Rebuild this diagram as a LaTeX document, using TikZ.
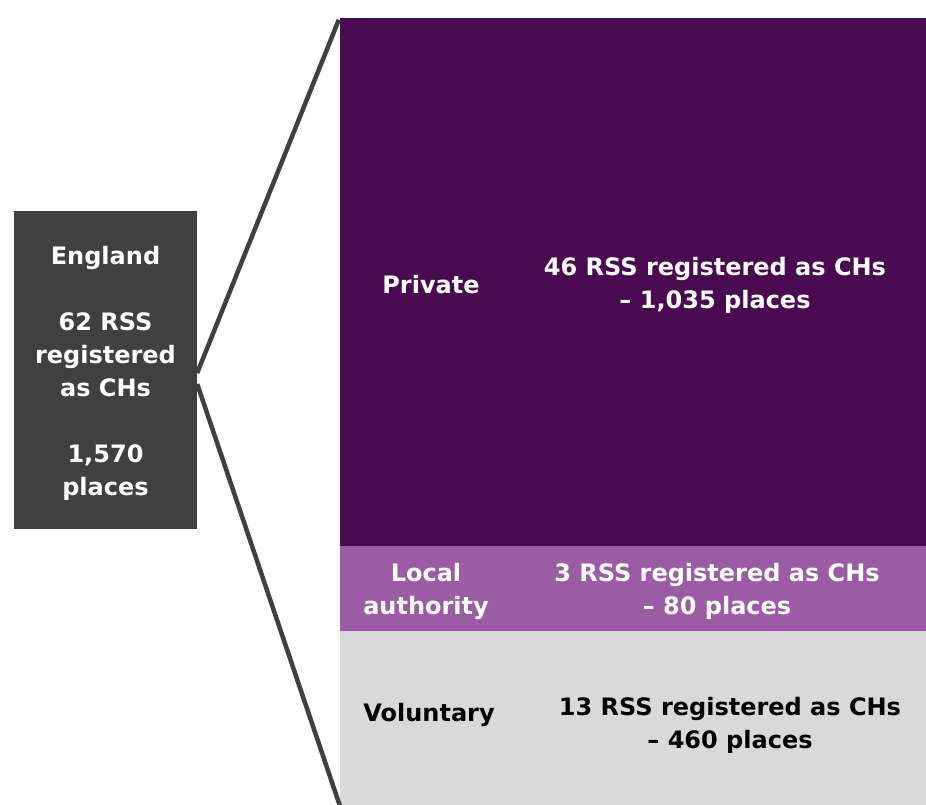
\documentclass[tikz,border=0pt]{standalone}
\usepackage{fontspec}
\setmainfont{DejaVu Sans}
\usetikzlibrary{positioning}
\definecolor{darkgrey}{HTML}{404040}
\definecolor{deeppurple}{HTML}{4A0A50}
\definecolor{lightpurple}{HTML}{9B5BA5}
\definecolor{palegrey}{HTML}{D9D9D9}
\begin{document}
\begin{tikzpicture}[x=1pt, y=-1pt, font=\fontsize{24}{33}\selectfont\bfseries]
\tikzset{
  panel/.style={rectangle, inner sep=0pt, minimum width=586pt},
  txt/.style={align=center, text=white},
  link/.style={draw=darkgrey, line width=4.5pt},
}
\useasboundingbox (0,0) rectangle (926,804);
\node[rectangle, fill=darkgrey, inner sep=0pt, minimum width=183pt, minimum height=318pt] (eng) at (105.5,370) {};
\node[txt] (engtxt) at (105.5,373) {England\\[33pt]62 RSS\\registered\\as CHs\\[33pt]1,570\\places};
\node[panel, fill=deeppurple, minimum height=528pt] (priv) at (633,282) {};
\node[panel, fill=lightpurple, minimum height=85pt, below=-0.5pt of priv] (la) {};
\node[panel, fill=palegrey, minimum height=174.5pt, below=-0.5pt of la] (vol) {};
\node[txt] (privname) at (431,285) {Private};
\node[txt] (privnum) at (715,285) {46 RSS registered as CHs\\– 1,035 places};
\node[txt] (laname) at (426,591) {Local\\authority};
\node[txt] (lanum) at (717,591) {3 RSS registered as CHs\\– 80 places};
\node[txt, text=black] (volname) at (429,715) {Voluntary};
\node[txt, text=black] (volnum) at (730,725) {13 RSS registered as CHs\\– 460 places};
\coordinate (upstart) at ([yshift=-3pt]eng.east);
\coordinate (lowstart) at ([yshift=-14pt]eng.east);
\draw[link] (upstart) -- ([xshift=-1pt,yshift=-2pt]priv.north west);
\draw[link] (lowstart) -- (vol.south west);
\end{tikzpicture}
\end{document}
